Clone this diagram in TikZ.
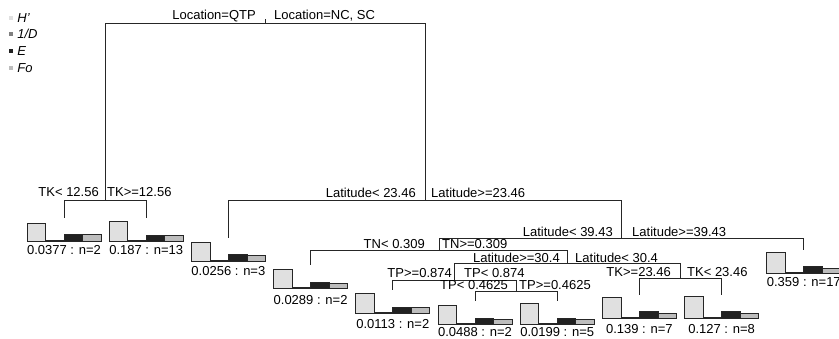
\documentclass[tikz,border=0pt]{standalone}
\usepackage{fontspec}
\setmainfont{Liberation Sans}
\usepackage{xcolor}
\usepackage{tikz}
\usetikzlibrary{positioning}

\definecolor{hcol}{gray}{0.88}
\definecolor{dcol}{gray}{0.5}
\definecolor{ecol}{gray}{0.13}
\definecolor{fcol}{gray}{0.74}

\begin{document}
\begin{tikzpicture}[x=1pt, y=-1pt, font=\fontsize{13}{15}\selectfont,
    branch/.style={draw=black!85, line width=0.8pt},
    barbox/.style={draw=black!85, line width=0.8pt},
    lsplit/.style={anchor=base east, inner sep=0pt},
    rsplit/.style={anchor=base west, inner sep=0pt},
    legsq/.style={minimum size=4pt, inner sep=0pt},
    legtxt/.style={inner sep=0pt, text height=9.3pt, text depth=0pt, font=\fontsize{13}{15}\selectfont\itshape}]
  \useasboundingbox (0,0) rectangle (839,338);

  % legend
  \node[legsq, fill=hcol] (sqh) at (11,17.5) {};
  \node[legtxt, right=4pt of sqh] (lh) {H'};
  \node[legsq, fill=dcol] (sqd) at (11,34) {};
  \node[legtxt, right=4pt of sqd] (ld) {1/D};
  \node[legsq, fill=ecol] (sqe) at (11,51) {};
  \node[legtxt, right=4pt of sqe] (le) {E};
  \node[legsq, fill=fcol] (sqf) at (11,68) {};
  \node[legtxt, right=4pt of sqf] (lf) {Fo};

  % splits
  \coordinate (loctop) at (265,19);
  \coordinate (loc) at (265,23);
  \coordinate (tk1) at (105.1,200);
  \coordinate (lat1) at (424.9,200);
  \coordinate (lat2) at (621.4,238);
  \coordinate (tn) at (439,250);
  \coordinate (lat3) at (567.5,263);
  \coordinate (tp1) at (454.4,280);
  \coordinate (tp2) at (516.1,291);
  \coordinate (tk2) at (680.5,278);

  % leaves
  \coordinate (l1) at (64,218);
  \coordinate (l2) at (146.2,218);
  \coordinate (l3) at (228.4,238);
  \coordinate (l4) at (310.6,265);
  \coordinate (l5) at (392.8,290);
  \coordinate (l6) at (475,301);
  \coordinate (l7) at (557.2,301);
  \coordinate (l8) at (639.4,295);
  \coordinate (l9) at (721.6,295);
  \coordinate (l10) at (803.8,250);

  \draw[branch] (loctop) -- (loc);
  \draw[branch] (loc) -| (tk1);
  \draw[branch] (loc) -| (lat1);
  \draw[branch] (tk1) -| (l1);
  \draw[branch] (tk1) -| (l2);
  \draw[branch] (lat1) -| (l3);
  \draw[branch] (lat1) -| (lat2);
  \draw[branch] (lat2) -| (tn);
  \draw[branch] (lat2) -| (l10);
  \draw[branch] (tn) -| (l4);
  \draw[branch] (tn) -| (lat3);
  \draw[branch] (lat3) -| (tp1);
  \draw[branch] (lat3) -| (tk2);
  \draw[branch] (tp1) -| (l5);
  \draw[branch] (tp1) -| (tp2);
  \draw[branch] (tp2) -| (l6);
  \draw[branch] (tp2) -| (l7);
  \draw[branch] (tk2) -| (l8);
  \draw[branch] (tk2) -| (l9);

  % split labels
  \node[lsplit] (sloc) at (256,19.5) {Location=QTP};
  \node[rsplit] (rloc) at (274,19.5) {Location=NC, SC};
  \node[lsplit] (stk1) at (99,196.5) {TK< 12.56};
  \node[rsplit] (rtk1) at (107,196.5) {TK>=12.56};
  \node[lsplit] (slat1) at (416,197) {Latitude< 23.46};
  \node[rsplit] (rlat1) at (431,197) {Latitude>=23.46};
  \node[lsplit] (slat2) at (613,236) {Latitude< 39.43};
  \node[rsplit] (rlat2) at (632,236) {Latitude>=39.43};
  \node[lsplit] (stn) at (425,248.5) {TN< 0.309};
  \node[rsplit] (rtn) at (442,248.5) {TN>=0.309};
  \node[lsplit] (slat3) at (560,262.5) {Latitude>=30.4};
  \node[rsplit] (rlat3) at (575,262.5) {Latitude< 30.4};
  \node[lsplit] (stp1) at (452,277) {TP>=0.874};
  \node[rsplit] (rtp1) at (464,277) {TP< 0.874};
  \node[lsplit] (stp2) at (508,289) {TP< 0.4625};
  \node[rsplit] (rtp2) at (519,289) {TP>=0.4625};
  \node[lsplit] (stk2) at (671,276) {TK>=23.46};
  \node[rsplit] (rtk2) at (687,276) {TK< 23.46};

  % leaf bar charts
  \foreach \i/\h/\e/\f/\ty/\txt in {1/18/7/7/13/0.0377 : n=2, 2/20/6/6/13/0.187 : n=13,
      3/19/7/6/14/0.0256 : n=3, 4/19/6/5/16/0.0289 : n=2, 5/20/6/6/15/0.0113 : n=2,
      6/19/6/5/12.5/0.0488 : n=2, 7/21/6/5/12.5/0.0199 : n=5, 8/21/7/5/15.5/0.139 : n=7,
      9/22/7/5/15.5/0.127 : n=8, 10/21/7/5/13/0.359 : n=17} {
    \path (l\i) ++(0,23) coordinate (b\i);
    \draw[barbox, fill=hcol] (b\i) ++(-37,0) rectangle ++(18.5,-\h);
    \draw[barbox, fill=dcol] (b\i) ++(-18.5,0) rectangle ++(18.5,-0.6);
    \draw[barbox, fill=ecol] (b\i) rectangle ++(18.5,-\e);
    \draw[barbox, fill=fcol] (b\i) ++(18.5,0) rectangle ++(18.5,-\f);
    \path (b\i) ++(0,\ty) node[anchor=base, inner sep=0pt] (t\i) {\txt};
  }
\end{tikzpicture}
\end{document}
